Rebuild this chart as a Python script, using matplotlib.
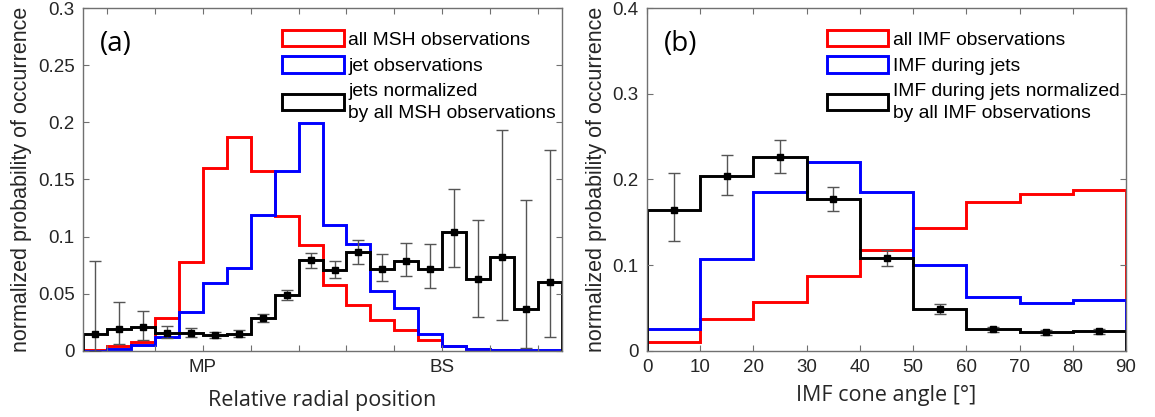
import numpy as np
import matplotlib
matplotlib.use('Agg')
import matplotlib.pyplot as plt
from matplotlib.patches import Patch

# ---- panel (a): relative radial position, MP = 0, BS = 1
pos_edges = np.round(np.arange(-0.5, 1.51, 0.1), 2)
msh_all = [0.0005, 0.0044, 0.0079, 0.029, 0.0776, 0.160, 0.1875, 0.157, 0.118, 0.0927,
           0.058, 0.040, 0.027, 0.018, 0.0096, 0.004, 0.0015, 0.0005, 0.0, 0.0]
msh_jets = [0.0, 0.0017, 0.0052, 0.0125, 0.0338, 0.0598, 0.0729, 0.119, 0.157, 0.1997,
            0.110, 0.0933, 0.0525, 0.038, 0.0145, 0.004, 0.0015, 0.0008, 0.0005, 0.0005]
msh_norm = [0.0146, 0.019, 0.0207, 0.0155, 0.016, 0.014, 0.0152, 0.0286, 0.049, 0.0796,
            0.0708, 0.0866, 0.0717, 0.0787, 0.0717, 0.1038, 0.063, 0.0825, 0.0367, 0.0606]
msh_norm_hi = [0.0787, 0.043, 0.035, 0.022, 0.020, 0.017, 0.018, 0.032, 0.0534, 0.086,
               0.079, 0.097, 0.0846, 0.0947, 0.0936, 0.1417, 0.1143, 0.1933, 0.132, 0.1758]
msh_norm_lo = [0.0, 0.006, 0.010, 0.0114, 0.012, 0.011, 0.012, 0.025, 0.0446, 0.0729,
               0.064, 0.076, 0.0615, 0.0659, 0.0554, 0.0737, 0.030, 0.0271, 0.0023, 0.0125]
pos_ticks = np.round(np.arange(-0.4, 1.41, 0.2), 2)
pos_ticklabels = ['', '', 'MP', '', '', '', '', 'BS', '', '']

# ---- panel (b): IMF cone angle
cone_edges = np.arange(0, 91, 10)
imf_all = [0.011, 0.037, 0.0575, 0.0875, 0.118, 0.144, 0.174, 0.183, 0.188]
imf_jets = [0.0253, 0.107, 0.185, 0.220, 0.185, 0.100, 0.063, 0.0556, 0.0595]
imf_norm = [0.1644, 0.204, 0.2266, 0.1773, 0.1088, 0.049, 0.0253, 0.0218, 0.0233]
imf_norm_hi = [0.207, 0.228, 0.246, 0.1916, 0.118, 0.0545, 0.028, 0.0245, 0.026]
imf_norm_lo = [0.128, 0.182, 0.208, 0.1636, 0.0995, 0.0428, 0.022, 0.019, 0.020]

plt.rcParams['font.family'] = ['Liberation Sans', 'DejaVu Sans']
tickcol = '#262626'
axcol = '#707070'

fig = plt.figure(figsize=(11.55, 4.17), dpi=100)
ax1 = fig.add_axes([0.0719, 0.1583, 0.4147, 0.8225])
ax2 = fig.add_axes([0.5602, 0.1583, 0.4147, 0.8225])


def panel(ax, edges, allv, jets, norm, lo, hi, letter):
    ax.stairs(allv, edges, color='red', lw=2.1)
    ax.stairs(jets, edges, color='blue', lw=2.1)
    ax.stairs(norm, edges, color='black', lw=2.1)
    centers = 0.5 * (edges[:-1] + edges[1:])
    norm = np.array(norm)
    yerr = [norm - np.array(lo), np.array(hi) - norm]
    ax.errorbar(centers, norm, yerr=yerr, fmt='none', ecolor='#555555',
                elinewidth=1.0, capsize=4, capthick=1.0, zorder=4)
    ax.plot(centers, norm, 's', color='black', ms=5, zorder=5)
    ax.set_xlim(edges[0], edges[-1])
    for s in ax.spines.values():
        s.set_color(axcol)
        s.set_linewidth(1.0)
    ax.tick_params(direction='in', length=4, top=True, right=True, color=axcol,
                   labelcolor=tickcol, labelsize=13.5, pad=6)
    ax.set_ylabel('normalized probability of occurrence', fontsize=15.5, color=tickcol, labelpad=4)
    ax.text(0.035, 0.895, letter, transform=ax.transAxes, fontsize=20,
            family=['Open Sans', 'DejaVu Sans'], va='center', ha='left')
    return [Patch(facecolor='white', edgecolor=c, lw=2.1) for c in ('red', 'blue', 'black')]


def add_legend(ax, handles, labels, x):
    leg = ax.legend(handles, labels, loc='upper left', bbox_to_anchor=(x, 0.937),
                    frameon=False, fontsize=13.9, handlelength=3.2, handleheight=0.95,
                    handletextpad=0.25, labelspacing=0.4, borderpad=0, borderaxespad=0)
    leg.get_texts()[2].set_linespacing(1.35)


h = panel(ax1, pos_edges, msh_all, msh_jets, msh_norm, msh_norm_lo, msh_norm_hi, '(a)')
ax1.set_ylim(0, 0.3)
ax1.set_yticks([0, 0.05, 0.1, 0.15, 0.2, 0.25, 0.3])
ax1.set_yticklabels(['0', '0.05', '0.1', '0.15', '0.2', '0.25', '0.3'])
ax1.set_xticks(pos_ticks)
ax1.set_xticklabels(pos_ticklabels)
ax1.set_xlabel('Relative radial position', fontsize=15.5, color=tickcol,
               family=['Open Sans', 'DejaVu Sans'], labelpad=10)
add_legend(ax1, h, ['all MSH observations', 'jet observations',
                    'jets normalized\nby all MSH observations'], 0.415)

h = panel(ax2, cone_edges, imf_all, imf_jets, imf_norm, imf_norm_lo, imf_norm_hi, '(b)')
ax2.set_ylim(0, 0.4)
ax2.set_yticks([0, 0.1, 0.2, 0.3, 0.4])
ax2.set_yticklabels(['0', '0.1', '0.2', '0.3', '0.4'])
ax2.set_xticks(cone_edges)
ax2.set_xlabel('IMF cone angle [°]', fontsize=15.5, color=tickcol,
               family=['Open Sans', 'DejaVu Sans'], labelpad=6)
add_legend(ax2, h, ['all IMF observations', 'IMF during jets',
                    'IMF during jets normalized\nby all IMF observations'], 0.375)

fig.savefig('out.png', dpi=100)
